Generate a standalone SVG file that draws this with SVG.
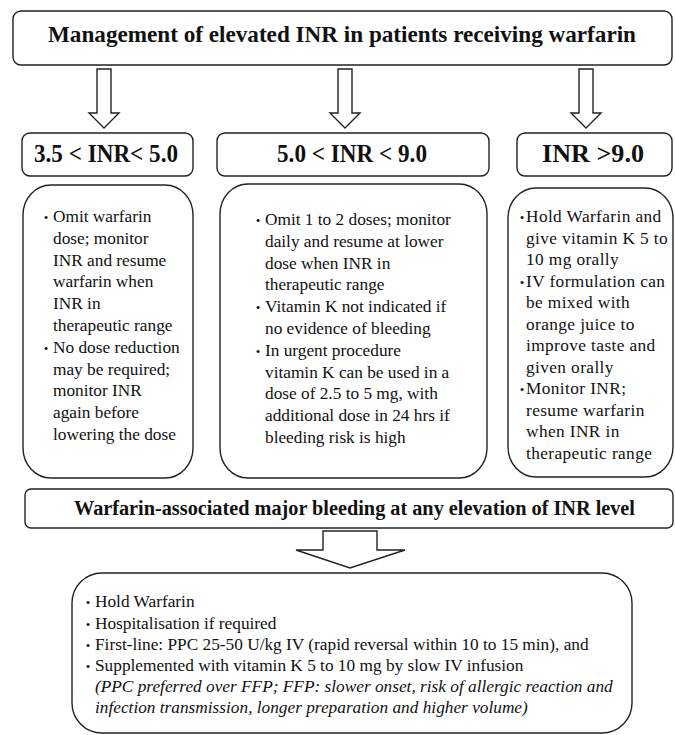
<svg xmlns="http://www.w3.org/2000/svg" width="675" height="735" viewBox="0 0 675 735">
<style>
.box{fill:#fff;stroke:#222;stroke-width:1.4}
.arr{fill:#fff;stroke:#222;stroke-width:1.4;stroke-linejoin:miter}
.hd{font-family:'Liberation Serif','Times New Roman',Tinos,'DejaVu Serif',serif;font-weight:bold;fill:#111}
.tx{font-family:'Liberation Serif','Times New Roman',Tinos,'DejaVu Serif',serif;font-size:17.3px;fill:#111}
.it{font-style:italic}
.bl{font-family:'Liberation Serif','Times New Roman',Tinos,'DejaVu Serif',serif;font-size:13px;fill:#111;text-anchor:middle}
.sp{letter-spacing:0.4px}
</style>
<rect width="675" height="735" fill="#fff"/>
<g id="connectors">
<polygon class="arr" points="97,69 111,69 111,113 119,113 104,128 89,113 97,113"/>
<polygon class="arr" points="338,69 352,69 352,113 360,113 345,128 330,113 338,113"/>
<polygon class="arr" points="579,69 593,69 593,113 601,113 586,128 571,113 579,113"/>
<polygon class="arr" points="323,531 377,531 377,550 405,550 350,568 296,550 323,550"/>
</g>
<g id="title">
<rect class="box" x="13" y="11" width="659" height="54" rx="8"/>
<text class="hd" x="342" y="42" font-size="24" text-anchor="middle" textLength="588" lengthAdjust="spacingAndGlyphs">Management of elevated INR in patients receiving warfarin</text>
</g>
<g id="range1">
<rect class="box" x="22" y="133" width="171" height="43" rx="8"/>
<text class="hd" x="106" y="162" font-size="25" text-anchor="middle" textLength="144" lengthAdjust="spacingAndGlyphs">3.5 &lt; INR&lt; 5.0</text>
</g>
<g id="range2">
<rect class="box" x="217" y="133" width="272" height="43" rx="8"/>
<text class="hd" x="352" y="162" font-size="25" text-anchor="middle" textLength="150" lengthAdjust="spacingAndGlyphs">5.0 &lt; INR &lt; 9.0</text>
</g>
<g id="range3">
<rect class="box" x="517" y="133" width="155" height="43" rx="8"/>
<text class="hd" x="593" y="162" font-size="25" text-anchor="middle" textLength="102" lengthAdjust="spacingAndGlyphs">INR &gt;9.0</text>
</g>
<g id="content1">
<rect class="box" x="23" y="185" width="170" height="293" rx="28" ry="30"/>
<text class="bl" x="46" y="222">•</text>
<text class="bl" x="46" y="352.8">•</text>
<text class="tx">
<tspan x="53" y="222">Omit warfarin</tspan>
<tspan x="53" y="243.8">dose; monitor</tspan>
<tspan x="53" y="265.6">INR and resume</tspan>
<tspan x="53" y="287.4">warfarin when</tspan>
<tspan x="53" y="309.2">INR in</tspan>
<tspan x="53" y="331">therapeutic range</tspan>
<tspan x="53" y="352.8">No dose reduction</tspan>
<tspan x="53" y="374.6">may be required;</tspan>
<tspan x="53" y="396.4">monitor INR</tspan>
<tspan x="53" y="418.2">again before</tspan>
<tspan x="53" y="440">lowering the dose</tspan>
</text>
</g>
<g id="content2">
<rect class="box" x="220" y="184" width="267" height="294" rx="28" ry="30"/>
<text class="bl" x="258" y="225">•</text>
<text class="bl" x="258" y="312.2">•</text>
<text class="bl" x="258" y="355.8">•</text>
<text class="tx">
<tspan x="265" y="225">Omit 1 to 2 doses; monitor</tspan>
<tspan x="265" y="246.8">daily and resume at lower</tspan>
<tspan x="265" y="268.6">dose when INR in</tspan>
<tspan x="265" y="290.4">therapeutic range</tspan>
<tspan x="265" y="312.2">Vitamin K not indicated if</tspan>
<tspan x="265" y="334">no evidence of bleeding</tspan>
<tspan x="265" y="355.8">In urgent procedure</tspan>
<tspan x="265" y="377.6">vitamin K can be used in a</tspan>
<tspan x="265" y="399.4">dose of 2.5 to 5 mg, with</tspan>
<tspan x="265" y="421.2">additional dose in 24 hrs if</tspan>
<tspan x="265" y="443">bleeding risk is high</tspan>
</text>
</g>
<g id="content3">
<rect class="box" x="508" y="188" width="165" height="289" rx="28" ry="30"/>
<text class="bl" x="522" y="222">•</text>
<text class="bl" x="522" y="286.5">•</text>
<text class="bl" x="522" y="394">•</text>
<text class="tx sp">
<tspan x="526" y="222">Hold Warfarin and</tspan>
<tspan x="526" y="243.5">give vitamin K 5 to</tspan>
<tspan x="526" y="265">10 mg orally</tspan>
<tspan x="526" y="286.5">IV formulation can</tspan>
<tspan x="526" y="308">be mixed with</tspan>
<tspan x="526" y="329.5">orange juice to</tspan>
<tspan x="526" y="351">improve taste and</tspan>
<tspan x="526" y="372.5">given orally</tspan>
<tspan x="526" y="394">Monitor INR;</tspan>
<tspan x="526" y="415.5">resume warfarin</tspan>
<tspan x="526" y="437">when INR in</tspan>
<tspan x="526" y="458.5">therapeutic range</tspan>
</text>
</g>
<g id="bleeding">
<rect class="box" x="25" y="489" width="648" height="39" rx="6"/>
<text class="hd" x="354.5" y="515" font-size="20.5" text-anchor="middle" textLength="561" lengthAdjust="spacingAndGlyphs">Warfarin-associated major bleeding at any elevation of INR level</text>
</g>
<g id="bleeding-management">
<rect class="box" x="72" y="573" width="560" height="160" rx="30" ry="30"/>
<text class="bl" x="88" y="607">•</text>
<text class="bl" x="88" y="628.5">•</text>
<text class="bl" x="88" y="650">•</text>
<text class="bl" x="88" y="671">•</text>
<text class="tx">
<tspan x="95" y="607">Hold Warfarin</tspan>
<tspan x="95" y="628.5">Hospitalisation if required</tspan>
<tspan x="95" y="650">First-line: PPC 25-50 U/kg IV (rapid reversal within 10 to 15 min), and</tspan>
<tspan x="95" y="671">Supplemented with vitamin K 5 to 10 mg by slow IV infusion</tspan>
</text>
<text class="tx it">
<tspan x="95" y="692">(PPC preferred over FFP; FFP: slower onset, risk of allergic reaction and</tspan>
<tspan x="95" y="713">infection transmission, longer preparation and higher volume)</tspan>
</text>
</g>
</svg>
